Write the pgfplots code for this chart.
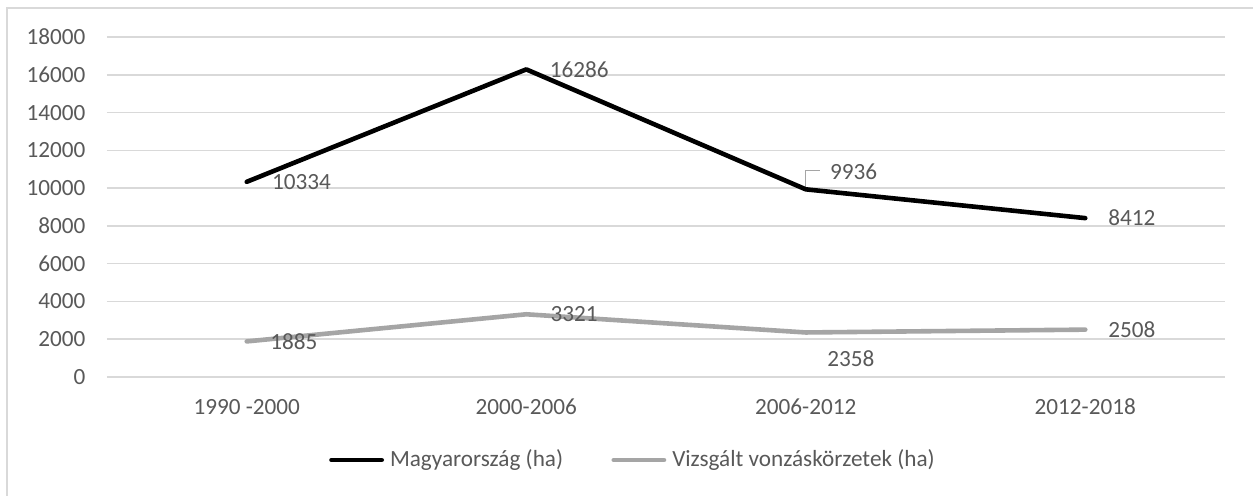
\documentclass[border=0pt]{standalone}
\usepackage{fontspec}
\setmainfont{Carlito}
\usepackage{pgfplots}
\usepackage{pgfplotstable}
\pgfplotsset{compat=1.18}
\definecolor{txt}{HTML}{595959}
\definecolor{gridc}{HTML}{D9D9D9}
\definecolor{ser2}{HTML}{A5A5A5}
\newcommand{\lfont}{\fontsize{11.6}{13.5}\selectfont}

\pgfplotstableread{
x y lab dx dy
0 10334 10334 11.5 0
1 16286 16286 10.6 0
2 9936 9936 11 8.8
3 8412 8412 10.4 0
}\hu
\pgfplotstableread{
x y lab dx dy
0 1885 1885 10.6 0
1 3321 3321 11 0
2 2358 2358 9.7 -13
3 2508 2508 10.4 0
}\vz

\begin{document}
\begin{tikzpicture}
\useasboundingbox (0,0) rectangle (626.5pt,247.5pt);
\fill[white] (0,0) rectangle (626.5pt,247.5pt);
\draw[gridc, line width=0.8pt] (3.5pt,-20pt) -- (3.5pt,243.5pt) -- (660pt,243.5pt);
\begin{axis}[
 at={(53.5pt,59pt)}, anchor=south west,
 scale only axis, width=559pt, height=170pt,
 xmin=-0.5, xmax=3.5, ymin=0, ymax=18000,
 xtick={0,1,2,3},
 xticklabels={1990 -2000,2000-2006,2006-2012,2012-2018},
 ytick={0,2000,...,18000},
 scaled y ticks=false,
 ymajorgrids, grid style={gridc, line width=0.75pt},
 axis line style={draw=none},
 major tick length=0pt,
 tick label style={font=\lfont, text=txt},
 yticklabel style={anchor=east, inner sep=0pt, xshift=-10.6pt},
 xticklabel style={anchor=base, inner sep=0pt, yshift=-18.5pt},
 /pgf/number format/assume math mode=true,
 /pgf/number format/1000 sep={},
 clip=false,
 legend columns=2,
 legend cell align=left,
 legend style={at={(0,0)}, anchor=west, xshift=111.1pt, yshift=-41.5pt,
   draw=none, fill=none, inner sep=0pt, outer sep=0pt,
   font=\lfont, text=txt,
   nodes={inner sep=0pt},
   /tikz/every odd column/.append style={column sep=3pt},
   /tikz/every even column/.append style={column sep=24.2pt}},
 legend image code/.code={\draw[#1, line cap=round] (0pt,0pt) -- (25.1pt,0pt);},
]
\draw[ser2, line width=0.6pt] (axis cs:2,9936) -- ++(0pt,9.3pt) -- ++(7pt,0pt);
\addplot[black, line width=2.3pt, line join=round, line cap=round, mark=none,
  visualization depends on={\thisrow{dx} \as \dx},
  visualization depends on={\thisrow{dy} \as \dy},
  nodes near coords, point meta=explicit symbolic,
  every node near coord/.append style={anchor=west, inner sep=0pt,
   xshift=\dx pt, yshift=\dy pt, font=\lfont, text=txt}]
  table[x=x, y=y, meta=lab] {\hu};
\addlegendentry{Magyarország (ha)}
\addplot[ser2, line width=2.3pt, line join=round, line cap=round, mark=none,
  visualization depends on={\thisrow{dx} \as \dx},
  visualization depends on={\thisrow{dy} \as \dy},
  nodes near coords, point meta=explicit symbolic,
  every node near coord/.append style={anchor=west, inner sep=0pt,
   xshift=\dx pt, yshift=\dy pt, font=\lfont, text=txt}]
  table[x=x, y=y, meta=lab] {\vz};
\addlegendentry{Vizsgált vonzáskörzetek (ha)}
\end{axis}
\end{tikzpicture}
\end{document}
